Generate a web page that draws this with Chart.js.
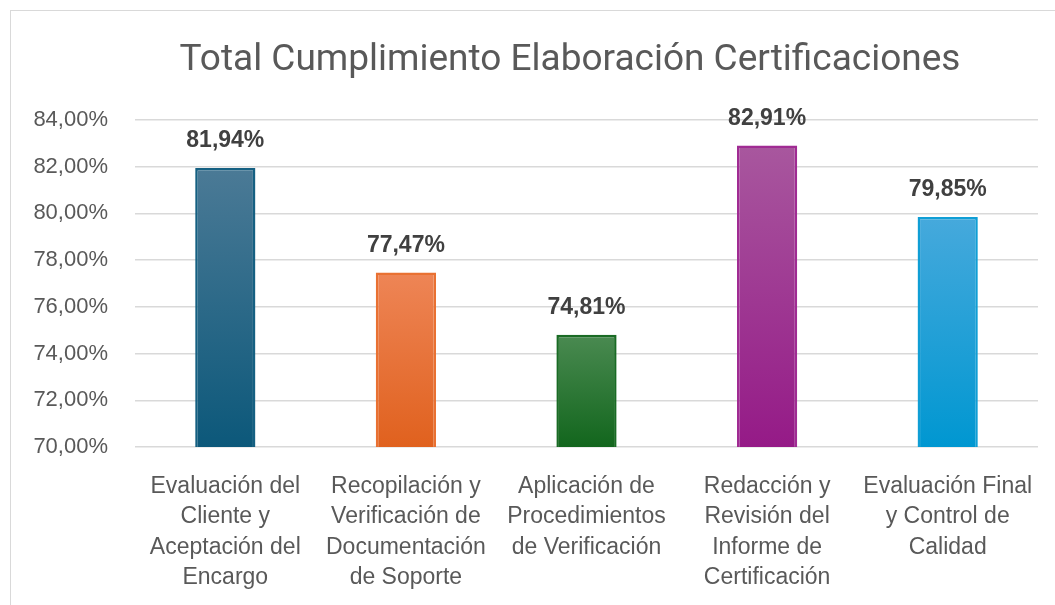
<!DOCTYPE html>
<html>
<head>
<meta charset="utf-8">
<script src="https://cdn.jsdelivr.net/npm/chart.js@4"></script>
<style>
  html, body { margin: 0; padding: 0; background: #ffffff; overflow: hidden; }
  #frame { position: absolute; left: 10px; top: 10px; width: 1200px; height: 800px; border: 1px solid #d9d9d9; box-sizing: border-box; }
  #c { position: absolute; left: 0; top: 0; }
</style>
</head>
<body>
<div id="frame"></div>
<canvas id="c" width="1055" height="605"></canvas>
<script>
const chartTitle = "Total Cumplimiento Elaboración Certificaciones";
const categories = [
  ["Evaluación del", "Cliente y", "Aceptación del", "Encargo"],
  ["Recopilación y", "Verificación de", "Documentación", "de Soporte"],
  ["Aplicación de", "Procedimientos", "de Verificación"],
  ["Redacción y", "Revisión del", "Informe de", "Certificación"],
  ["Evaluación Final", "y Control de", "Calidad"]
];
const values = [81.94, 77.47, 74.81, 82.91, 79.85];
const yMin = 70, yMax = 84, yStep = 2;
const baseColors = ["#156082", "#E97132", "#196B24", "#A02B93", "#0F9ED5"];
const topColors = ["#4B7A96", "#EE8556", "#4A8A51", "#A8579E", "#46A9DC"];
const bottomColors = ["#0C587A", "#E0611E", "#12661D", "#951A87", "#0097D1"];

const fmt = v => v.toFixed(2).replace('.', ',') + '%';

const labelPlugin = {
  id: 'valueLabels',
  afterDatasetsDraw(chart) {
    const ctx = chart.ctx;
    const meta = chart.getDatasetMeta(0);
    ctx.save();
    ctx.font = 'bold 23px "Liberation Sans", Arial, sans-serif';
    ctx.fillStyle = '#404040';
    ctx.textAlign = 'center';
    ctx.textBaseline = 'middle';
    meta.data.forEach((bar, i) => {
      ctx.fillText(fmt(values[i]), bar.x, bar.y - 27);
    });
    ctx.restore();
  }
};

const titlePlugin = {
  id: 'customTitle',
  afterDraw(chart) {
    const ctx = chart.ctx;
    ctx.save();
    ctx.font = '37px "Roboto", sans-serif';
    ctx.fillStyle = '#595959';
    ctx.textAlign = 'center';
    ctx.textBaseline = 'alphabetic';
    ctx.fillText(chartTitle, 570, 70);
    ctx.restore();
  }
};

function gradientFor(context, i) {
  const chart = context.chart;
  if (!chart.chartArea || !chart.scales.y) return baseColors[i];
  const ys = chart.scales.y;
  const top = ys.getPixelForValue(values[i]);
  const bot = ys.getPixelForValue(yMin);
  const g = chart.ctx.createLinearGradient(0, top, 0, bot);
  g.addColorStop(0, topColors[i]);
  g.addColorStop(1, bottomColors[i]);
  return g;
}

new Chart(document.getElementById('c'), {
  type: 'bar',
  data: {
    labels: categories,
    datasets: [{
      data: values,
      backgroundColor: (context) => gradientFor(context, context.dataIndex),
      borderColor: baseColors,
      borderWidth: 2.5,
      borderSkipped: false,
      barPercentage: 0.667,
      categoryPercentage: 0.5
    }]
  },
  options: {
    responsive: false,
    animation: false,
    devicePixelRatio: 1,
    layout: { padding: { left: 0, right: 17, top: 120, bottom: 0 } },
    plugins: {
      legend: { display: false },
      tooltip: { enabled: false },
      title: { display: false }
    },
    scales: {
      x: {
        grid: { display: false },
        border: { display: false },
        ticks: {
          color: '#595959',
          font: { family: '"Liberation Sans", Arial, sans-serif', size: 23, lineHeight: 1.33 },
          padding: 16,
          maxRotation: 0,
          autoSkip: false
        },
        afterFit(scale) { scale.height = 158; }
      },
      y: {
        min: yMin,
        max: yMax,
        grid: { color: '#d9d9d9', lineWidth: 1.5, drawTicks: false },
        border: { display: false },
        ticks: {
          stepSize: yStep,
          color: '#595959',
          font: { family: '"Liberation Sans", Arial, sans-serif', size: 22 },
          padding: 27,
          callback: (v) => fmt(v)
        },
        afterFit(scale) { scale.width = 135; }
      }
    }
  },
  plugins: [labelPlugin, titlePlugin]
});
</script>
</body>
</html>
